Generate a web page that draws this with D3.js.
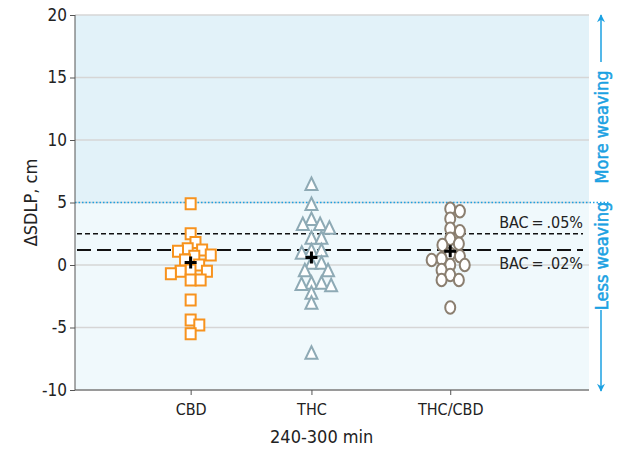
<!DOCTYPE html>
<html>
<head>
<meta charset="utf-8">
<script src="https://cdn.jsdelivr.net/npm/d3@7"></script>
<style>
  body { margin: 0; background: #fff; }
  text { font-family: "DejaVu Sans Condensed", "Liberation Sans Narrow", sans-serif; }
</style>
</head>
<body>
<svg id="chart" width="626" height="455"></svg>
<script>
// groups and per-subject change in SDLP (cm)
var groups = ["CBD", "THC", "THC/CBD"];
var cbdValues = [4.9, 2.5, 1.8, 1.3, 1.2, 1.1, 0.8, 0.7, 0.4, 0.0, -0.4, -0.5, -0.5, -0.7, -1.2, -1.2, -2.8, -4.4, -4.8, -5.5];
var thcValues = [6.4, 4.8, 3.6, 3.2, 3.2, 2.9, 2.1, 2.1, 1.1, 0.9, 1.1, 0.1, 0.1, -0.5, -0.5, -1.5, -1.7, -1.6, -1.5, -2.3, -3.1, -7.1];
var thcCbdValues = [4.5, 4.3, 3.7, 2.9, 2.7, 2.1, 1.7, 1.6, 0.9, 0.7, 0.5, 0.4, 0.0, 0.0, -0.4, -0.8, -1.2, -1.2, -3.4];
var groupMeans = [0.2, 0.6, 1.1];
var bacLabels = ["BAC\u2009=\u2009.05%", "BAC\u2009=\u2009.02%"];
var bacValues = [2.5, 1.2];
var weavingThreshold = 5;
var yTicks = [-10, -5, 0, 5, 10, 15, 20];

var series = [
  { name: groups[0], values: cbdValues, mean: groupMeans[0], shape: "square", color: "#f7931e" },
  { name: groups[1], values: thcValues, mean: groupMeans[1], shape: "triangle", color: "#8eaab5" },
  { name: groups[2], values: thcCbdValues, mean: groupMeans[2], shape: "circle", color: "#8b7f70" }
];

var margin = { left: 75, right: 37, top: 15, bottom: 65 },
    width = 626, height = 455,
    plotW = width - margin.left - margin.right,
    plotH = height - margin.top - margin.bottom;

var svg = d3.select("#chart");
var g = svg.append("g").attr("transform", "translate(" + margin.left + "," + margin.top + ")");

var yScale = d3.scaleLinear().domain([-10, 20]).range([plotH, 0]);
// category centres are not evenly spaced in the original
var xScale = d3.scaleOrdinal().domain(groups)
    .range([plotW * 0.225, plotW * 0.46, plotW * 0.73]);

// shaded background: more weaving above threshold, less below
g.append("rect").attr("x", 0).attr("y", 0)
  .attr("width", plotW).attr("height", yScale(weavingThreshold))
  .attr("fill", "#e2f2f9");
g.append("rect").attr("x", 0).attr("y", yScale(weavingThreshold))
  .attr("width", plotW).attr("height", plotH - yScale(weavingThreshold))
  .attr("fill", "#f0f9fc");

// grid lines
g.selectAll(".grid").data(yTicks).enter().append("line")
  .attr("x1", 0).attr("x2", plotW)
  .attr("y1", function(d) { return yScale(d); })
  .attr("y2", function(d) { return yScale(d); })
  .attr("stroke", "#d6d6d6").attr("stroke-width", 1.5);

// threshold (dotted blue)
g.append("line")
  .attr("x1", 0).attr("x2", plotW + 20)
  .attr("y1", yScale(weavingThreshold)).attr("y2", yScale(weavingThreshold))
  .attr("stroke", "#1ba1e2").attr("stroke-width", 1.5)
  .attr("stroke-dasharray", "1.5,2");

// BAC reference lines
var dashes = ["5,3", "14,6"];
var widths = [1.3, 1.8];
bacValues.forEach(function(v, i) {
  g.append("line")
    .attr("x1", 2).attr("x2", plotW - 6)
    .attr("y1", yScale(v)).attr("y2", yScale(v))
    .attr("stroke", "#111").attr("stroke-width", widths[i])
    .attr("stroke-dasharray", dashes[i]);
});
g.append("text").attr("x", plotW - 6).attr("y", yScale(bacValues[0]) - 6)
  .attr("text-anchor", "end").attr("font-size", 16).attr("fill", "#222")
  .text(bacLabels[0]);
g.append("text").attr("x", plotW - 6).attr("y", yScale(bacValues[1]) + 19)
  .attr("text-anchor", "end").attr("font-size", 16).attr("fill", "#222")
  .text(bacLabels[1]);

// y axis (plain hyphen for negatives, as in the original)
var yAxis = g.append("g").call(d3.axisLeft(yScale).tickValues(yTicks)
    .tickFormat(function(d) { return String(d); }).tickSize(5).tickPadding(3));
yAxis.select(".domain").attr("stroke", "#555").attr("d", "M0,0V" + plotH);
yAxis.selectAll(".tick line").attr("stroke", "#555");
yAxis.selectAll(".tick text").attr("font-size", 17).attr("fill", "#222")
  .style("font-family", "'DejaVu Sans Condensed', sans-serif");

// x axis
var xAxis = g.append("g").attr("transform", "translate(0," + plotH + ")")
  .call(d3.axisBottom(xScale).tickSize(5).tickPadding(9));
xAxis.select(".domain").attr("stroke", "#555").attr("d", "M0,0H" + plotW);
xAxis.selectAll(".tick line").attr("stroke", "#555");
xAxis.selectAll(".tick text").attr("font-size", 16).attr("fill", "#222")
  .style("font-family", "'DejaVu Sans Condensed', sans-serif");

// axis titles
svg.append("text")
  .attr("transform", "translate(37," + (margin.top + plotH / 2) + ") rotate(-90)")
  .attr("text-anchor", "middle").attr("font-size", 18).attr("fill", "#222")
  .text("\u0394SDLP, cm");
svg.append("text")
  .attr("x", margin.left + plotW * 0.48).attr("y", height - 12)
  .attr("text-anchor", "middle").attr("font-size", 18).attr("fill", "#222")
  .text("240-300 min");

// simple beeswarm: place each point as near the centre as it can go
function swarm(values, diam) {
  var placed = [];
  var order = values.map(function(v, i) { return i; })
    .sort(function(a, b) { return values[b] - values[a]; });
  order.forEach(function(i) {
    var y = yScale(values[i]);
    var cands = [0];
    placed.forEach(function(p) {
      var dy = y - p.y;
      if (Math.abs(dy) < diam) {
        var dx = Math.sqrt(diam * diam - dy * dy);
        cands.push(p.x + dx, p.x - dx);
      }
    });
    cands.sort(function(a, b) { return Math.abs(a) - Math.abs(b); });
    var x = cands.find(function(c) {
      return placed.every(function(p) {
        return Math.hypot(c - p.x, y - p.y) >= diam - 1e-6;
      });
    });
    placed.push({ x: x, y: y });
  });
  return placed;
}

series.forEach(function(s) {
  var cx = xScale(s.name);
  var pts = swarm(s.values, 10);
  var sg = g.append("g").attr("transform", "translate(" + cx + ",0)");
  if (s.shape === "square") {
    sg.selectAll("rect").data(pts).enter().append("rect")
      .attr("x", function(d) { return d.x - 5; })
      .attr("y", function(d) { return d.y - 5.5; })
      .attr("width", 10).attr("height", 11)
      .attr("fill", "#fff").attr("stroke", s.color).attr("stroke-width", 2);
  } else if (s.shape === "triangle") {
    sg.selectAll("path").data(pts).enter().append("path")
      .attr("d", function(d) {
        return "M" + d.x + "," + (d.y - 7.5) + "L" + (d.x + 6) + "," + (d.y + 5) +
               "L" + (d.x - 6) + "," + (d.y + 5) + "Z";
      })
      .attr("fill", "#fff").attr("stroke", s.color).attr("stroke-width", 2)
      .attr("stroke-linejoin", "miter");
  } else {
    sg.selectAll("ellipse").data(pts).enter().append("ellipse")
      .attr("cx", function(d) { return d.x; })
      .attr("cy", function(d) { return d.y; })
      .attr("rx", 5).attr("ry", 6.2)
      .attr("fill", "#fff").attr("stroke", s.color).attr("stroke-width", 2);
  }
  // group mean
  sg.append("path")
    .attr("d", "M-6," + yScale(s.mean) + "H6M0," + (yScale(s.mean) - 6) + "V" + (yScale(s.mean) + 6))
    .attr("stroke", "#000").attr("stroke-width", 3);
});

// side annotations
var side = svg.append("g").attr("transform", "translate(" + (margin.left + plotW + 12) + ",0)");
var blue = "#1ba1e2";
var defs = svg.append("defs");
defs.append("marker").attr("id", "arrow").attr("viewBox", "0 0 10 10")
  .attr("refX", 9).attr("refY", 5).attr("markerWidth", 10).attr("markerHeight", 8)
  .attr("orient", "auto").attr("markerUnits", "userSpaceOnUse")
  .append("path").attr("d", "M0,0L10,5L0,10L3,5Z").attr("fill", blue);
side.append("line").attr("x1", 0).attr("x2", 0)
  .attr("y1", 62).attr("y2", 15)
  .attr("stroke", blue).attr("stroke-width", 1.5).attr("marker-end", "url(#arrow)");
side.append("line").attr("x1", 0).attr("x2", 0)
  .attr("y1", 310).attr("y2", 391)
  .attr("stroke", blue).attr("stroke-width", 1.5).attr("marker-end", "url(#arrow)");
side.append("text").attr("transform", "translate(6.5,127) rotate(-90)")
  .attr("text-anchor", "middle").attr("font-size", 18).attr("fill", blue)
  .attr("stroke", blue).attr("stroke-width", 0.5)
  .text("More weaving");
side.append("text").attr("transform", "translate(6.5,256) rotate(-90)")
  .attr("text-anchor", "middle").attr("font-size", 18).attr("fill", blue)
  .attr("stroke", blue).attr("stroke-width", 0.5)
  .text("Less weaving");
</script>
</body>
</html>
